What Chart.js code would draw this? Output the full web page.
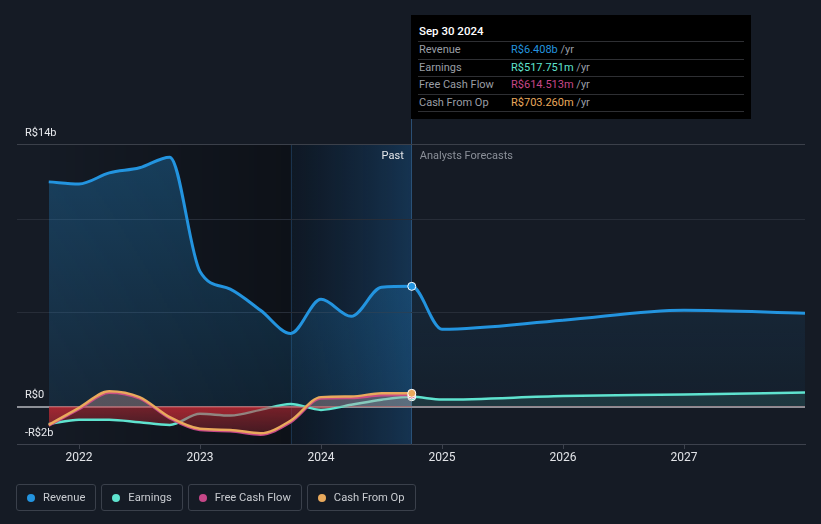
<!DOCTYPE html>
<html>
<head>
<meta charset="utf-8">
<script src="https://cdn.jsdelivr.net/npm/chart.js@4.4.1/dist/chart.umd.min.js"></script>
<style>
body { margin: 0; background: #151b25; font-family: Roboto, "Noto Sans", sans-serif; }
#wrap { position: relative; width: 821px; height: 524px; }
#chart { position: absolute; left: 0; top: 0; }
#tip { position: absolute; left: 411px; top: 15px; width: 340px; height: 104px; background: #000; font-size: 11px; }
#tip .title { position: absolute; left: 8px; top: 9px; color: #fff; font-size: 11.5px; font-weight: 500; }
#tip .row { position: absolute; left: 7px; width: 326px; height: 16.5px; border-top: 1px solid #2e2f33; line-height: 15px; color: #9a9ea5; }
#tip .row span.l { position: absolute; left: 1px; }
#tip .row span.v { position: absolute; left: 93px; }
#tip .row span.u { color: #9a9ea5; }
#tip .last { position: absolute; left: 7px; width: 326px; top: 96px; border-top: 1px solid #2e2f33; }
#legend { position: absolute; left: 16px; top: 484px; display: flex; gap: 5px; }
#legend .item { height: 25px; border: 1px solid #3a404b; border-radius: 3px; display: flex; align-items: center; padding: 0 10px 0 10px; color: #c8cbd0; font-size: 11.2px; }
#legend .dot { width: 8px; height: 8px; border-radius: 50%; margin-right: 8px; }
</style>
</head>
<body>
<div id="wrap">
  <canvas id="chart" width="821" height="524"></canvas>
  <div id="tip"></div>
  <div id="legend"></div>
</div>
<script>
// quarterly history (fractional years) and annual analyst forecasts
const pastDates = [2021.75, 2022.0, 2022.25, 2022.5, 2022.75, 2023.0, 2023.25, 2023.5, 2023.75, 2024.0, 2024.25, 2024.5, 2024.75];
const forecastDates = [2025.0, 2026.0, 2027.0, 2028.0];

// values in R$ billions
const revenuePast = [11.98, 11.87, 12.46, 12.73, 13.3, 7.2, 6.26, 5.13, 3.9, 5.72, 4.81, 6.36, 6.408];
const revenueFcst = [4.12, 4.6, 5.13, 4.97];
const earningsPast = [-0.93, -0.71, -0.7, -0.84, -0.98, -0.39, -0.48, -0.18, 0.14, -0.18, 0.09, 0.36, 0.518];
const earningsFcst = [0.37, 0.56, 0.64, 0.75];
const fcfPast = [-1.02, -0.14, 0.74, 0.43, -0.63, -1.26, -1.32, -1.5, -0.84, 0.42, 0.45, 0.6, 0.615];
const cfoPast = [-0.98, -0.07, 0.82, 0.5, -0.57, -1.19, -1.25, -1.43, -0.75, 0.5, 0.53, 0.71, 0.703];

const xTicks = [2022, 2023, 2024, 2025, 2026, 2027];
const yTicks = [-2, 0, 5, 10, 14];
const yLabels = { '-2': '-R$2b', '0': 'R$0', '14': 'R$14b' };

const names = ['Revenue', 'Earnings', 'Free Cash Flow', 'Cash From Op'];
const colors = ['#2394df', '#5fe3cf', '#c64788', '#e9a95c'];
const tipValues = ['R$6.408b', 'R$517.751m', 'R$614.513m', 'R$703.260m'];
const tipTitle = 'Sep 30 2024';
const nowIndex = pastDates.length - 1;

function pts(xs, ys) { return xs.map((x, i) => ({ x: x, y: ys[i] })); }

function vGrad(chart, rgb, aTop, aBot, vTop, vBot) {
  const y = chart.scales && chart.scales.y;
  if (!y || !chart.chartArea) return 'rgba(' + rgb + ',' + aTop + ')';
  const g = chart.ctx.createLinearGradient(0, y.getPixelForValue(vTop), 0, y.getPixelForValue(vBot));
  g.addColorStop(0, 'rgba(' + rgb + ',' + aTop + ')');
  g.addColorStop(1, 'rgba(' + rgb + ',' + aBot + ')');
  return g;
}
const redBelow = c => vGrad(c.chart, '195,42,52', 0.55, 0.1, 0, -2);

// shaded past / last-year bands and the "Past / Analysts Forecasts" labels
const bands = {
  id: 'bands',
  beforeDraw(chart) {
    const { ctx, chartArea: a, scales: { x } } = chart;
    const x0 = x.getPixelForValue(pastDates[0]);
    const x1 = x.getPixelForValue(2023.75);
    const x2 = x.getPixelForValue(2024.75);
    ctx.save();
    let g = ctx.createLinearGradient(x0, 0, x1, 0);
    g.addColorStop(0, 'rgba(0,0,0,0)');
    g.addColorStop(1, 'rgba(0,0,0,0.35)');
    ctx.fillStyle = g;
    ctx.fillRect(x0, a.top, x1 - x0, a.bottom - a.top);
    g = ctx.createLinearGradient(x1, 0, x2, 0);
    g.addColorStop(0, 'rgba(10,22,36,0.55)');
    g.addColorStop(1, 'rgba(22,60,96,0.75)');
    ctx.fillStyle = g;
    ctx.fillRect(x1, a.top, x2 - x1, a.bottom - a.top);
    ctx.fillStyle = 'rgba(35,70,105,0.6)';
    ctx.fillRect(Math.round(x1), a.top, 1, a.bottom - a.top);
    ctx.fillStyle = 'rgba(45,85,125,0.9)';
    ctx.fillRect(Math.round(x2) - 1, a.top - 25, 1, a.bottom - a.top + 25);
    ctx.font = '11px Roboto, sans-serif';
    ctx.textBaseline = 'middle';
    ctx.textAlign = 'right';
    ctx.fillStyle = '#e4e6ea';
    ctx.fillText('Past', x2 - 8, a.top + 12);
    ctx.textAlign = 'left';
    ctx.fillStyle = '#8b9099';
    ctx.fillText('Analysts Forecasts', x2 + 8, a.top + 12);
    ctx.restore();
  }
};

const pointR = c => (c.dataIndex === nowIndex ? 4 : 0);

new Chart(document.getElementById('chart'), {
  type: 'line',
  data: {
    datasets: [
      {
        label: names[0], order: 4,
        data: pts(pastDates.concat(forecastDates), revenuePast.concat(revenueFcst)),
        borderColor: colors[0], borderWidth: 3,
        fill: c => ({ target: 'origin', above: vGrad(c.chart, '35,148,223', 0.32, 0.12, 14, 0), below: redBelow(c) }),
        segment: { backgroundColor: c => (c.p0DataIndex >= nowIndex ? vGrad(c.chart, '35,148,223', 0.1, 0.04, 6, 0) : undefined) },
        pointRadius: pointR, pointBackgroundColor: colors[0], pointBorderColor: '#fff', pointBorderWidth: 1
      },
      {
        label: names[1], order: 3,
        data: pts(pastDates.concat(forecastDates), earningsPast.concat(earningsFcst)),
        borderColor: colors[1], borderWidth: 2.5,
        fill: c => ({ target: 'origin', above: 'rgba(95,227,207,0.12)', below: redBelow(c) }),
        pointRadius: pointR, pointBackgroundColor: colors[1], pointBorderColor: '#fff', pointBorderWidth: 1
      },
      {
        label: names[2], order: 2,
        data: pts(pastDates, fcfPast),
        borderColor: colors[2], borderWidth: 2.5,
        fill: c => ({ target: 'origin', above: 'rgba(200,160,175,0.3)', below: redBelow(c) }),
        pointRadius: pointR, pointBackgroundColor: colors[2], pointBorderColor: '#fff', pointBorderWidth: 1
      },
      {
        label: names[3], order: 1,
        data: pts(pastDates, cfoPast),
        borderColor: colors[3], borderWidth: 2.5,
        fill: c => ({ target: 'origin', above: 'rgba(233,169,92,0.08)', below: 'rgba(190,45,55,0.1)' }),
        pointRadius: pointR, pointBackgroundColor: colors[3], pointBorderColor: '#fff', pointBorderWidth: 1
      }
    ]
  },
  options: {
    responsive: false,
    animation: false,
    events: [],
    layout: { padding: { left: 17, right: 16, top: 144, bottom: 52 } },
    plugins: { legend: { display: false }, tooltip: { enabled: false } },
    elements: { line: { cubicInterpolationMode: 'monotone' } },
    scales: {
      x: {
        type: 'linear', min: 2021.4876, max: 2028.0,
        afterBuildTicks: s => { s.ticks = xTicks.map(v => ({ value: v })); },
        afterFit: s => { s.height = 28; },
        grid: { drawOnChartArea: false, tickLength: 5, color: '#3d424d' },
        border: { color: '#3d424d', width: 1 },
        ticks: { color: '#e2e4e8', font: { size: 12, family: 'Roboto' }, padding: 2, callback: v => String(v) }
      },
      y: {
        min: -2, max: 14,
        afterBuildTicks: s => { s.ticks = yTicks.map(v => ({ value: v })); },
        afterFit: s => { s.width = 0; },
        border: { display: false },
        grid: {
          drawTicks: false,
          color: c => (c.tick.value === 0 ? '#8d9097' : c.tick.value === -2 ? 'rgba(0,0,0,0)' : c.tick.value === 14 ? '#3b404a' : '#272d38'),
          lineWidth: c => (c.tick.value === 0 ? 2 : 1)
        },
        ticks: {
          mirror: true, padding: 8, labelOffset: -11,
          color: '#e8eaee', font: { size: 11, family: 'Roboto' },
          callback: v => yLabels[String(v)] || ''
        }
      }
    }
  },
  plugins: [bands]
});

// tooltip-style box for the latest reported period
const tip = document.getElementById('tip');
let html = '<div class="title">' + tipTitle + '</div>';
names.forEach((n, i) => {
  html += '<div class="row" style="top:' + (26 + i * 17.5) + 'px"><span class="l">' + n + '</span>' +
    '<span class="v"><span style="color:' + colors[i] + '">' + tipValues[i] + '</span> <span class="u">/yr</span></span></div>';
});
html += '<div class="last"></div>';
tip.innerHTML = html;

// legend chips
const legend = document.getElementById('legend');
names.forEach((n, i) => {
  const d = document.createElement('div');
  d.className = 'item';
  d.innerHTML = '<span class="dot" style="background:' + colors[i] + '"></span>' + n;
  legend.appendChild(d);
});
</script>
</body>
</html>
